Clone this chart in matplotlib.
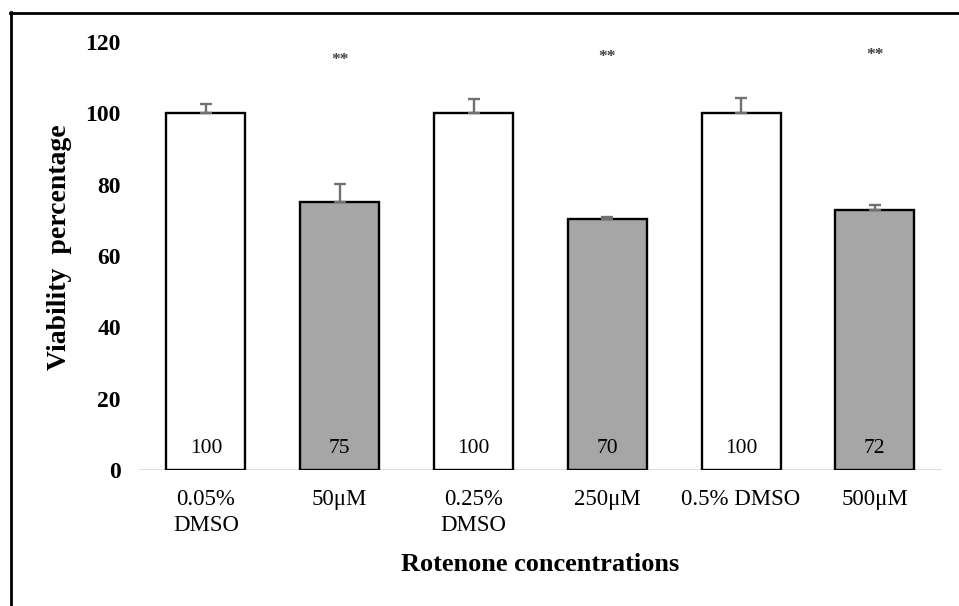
import numpy as np
import matplotlib
matplotlib.use("Agg")
import matplotlib.pyplot as plt
from matplotlib.lines import Line2D

plt.rcParams['font.family'] = ['Liberation Serif', 'DejaVu Serif']

# data
categories = ["0.05%\nDMSO", "50μM", "0.25%\nDMSO", "250μM", "0.5% DMSO", "500μM"]
viability = [100, 75.2, 100, 70.5, 100, 73.0]
errors = [2.5, 5.0, 4.0, 0.4, 4.4, 1.4]
value_labels = ["100", "75", "100", "70", "100", "72"]
stars = ["", "**", "", "**", "", "**"]
star_y = [0, 114.9, 0, 115.9, 0, 116.3]
is_control = [True, False, True, False, True, False]

fig = plt.figure(figsize=(9.59, 6.06), dpi=100)
ax = fig.add_axes([0.145, 0.2244, 0.837, 0.7063])

x = np.arange(len(categories))
colors = ['white' if c else '#a6a6a6' for c in is_control]

ax.axhline(0, color='#d9d9d9', lw=2, zorder=1)
ax.bar(x, viability, width=0.59, color=colors, edgecolor='black', linewidth=1.7, zorder=2)
ax.errorbar(x, viability, yerr=[np.zeros(len(errors)), errors], fmt='none',
            ecolor='#707070', elinewidth=1.7, capsize=4.5, capthick=1.7, zorder=3)

for xi, lab in zip(x, value_labels):
    ax.text(xi, 6.0, lab, ha='center', va='center', fontsize=15.5, color='black', zorder=4)

for xi, s, sy in zip(x, stars, star_y):
    if s:
        ax.text(xi, sy, s, ha='center', va='center', fontsize=12.5, fontweight='bold', color='#404040')

ax.set_xlim(-0.5, 5.5)
ax.set_ylim(0, 120)
ax.set_yticks(np.arange(0, 121, 20))
ax.set_xticks(x)
ax.set_xticklabels(categories, fontsize=16.5, linespacing=1.3)
for t in ax.get_yticklabels():
    t.set_fontweight('bold')
    t.set_fontsize(17)
ax.tick_params(axis='both', length=0)
ax.tick_params(axis='y', pad=13)
ax.tick_params(axis='x', pad=13.5)
for sp in ax.spines.values():
    sp.set_visible(False)

ax.set_ylabel("Viability  percentage", fontsize=20, fontweight='bold', va='center')
ax.yaxis.set_label_coords(-0.0996, 0.52)
ax.set_xlabel("Rotenone concentrations", fontsize=19, fontweight='bold', va='center')
ax.xaxis.set_label_coords(0.5, -0.22)

# partial outer frame (top and left)
fig.add_artist(Line2D([10/959, 1], [1 - 12.5/606, 1 - 12.5/606], transform=fig.transFigure,
                      color='black', lw=2))
fig.add_artist(Line2D([10.5/959, 10.5/959], [0, 1 - 12/606], transform=fig.transFigure,
                      color='black', lw=2))

fig.savefig("out.png", dpi=100)
